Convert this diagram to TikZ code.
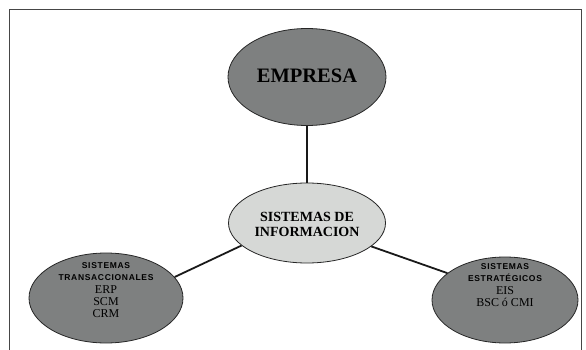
\documentclass[tikz,border=0pt]{standalone}
\usepackage{fontspec}
\setmainfont{Liberation Serif}
\newfontfamily\petitsans[LetterSpace=8]{Liberation Sans}
\usetikzlibrary{shapes.geometric}
\definecolor{ovalgris}{RGB}{126,128,128}
\definecolor{ovalclair}{RGB}{214,216,214}
\definecolor{cadre}{RGB}{70,70,70}
\newcommand{\petit}{\petitsans\bfseries\fontsize{8.5}{9.5}\selectfont}
\newcommand{\moyen}{\rmfamily\mdseries\fontsize{12}{13}\selectfont}

\begin{document}
\begin{tikzpicture}[x=1pt,y=-1pt,
    oval/.style={ellipse, draw=black!85, line width=.8pt, fill=ovalgris, inner sep=0pt},
    lien/.style={line width=1.8pt, black!90},
    titre/.style={align=center, inner sep=0pt, font=\bfseries}]
    % cadre
    \useasboundingbox (0,0) rectangle (586,350);
    \draw[cadre, line width=.8pt] (9.5,351) -- (9.5,9.5) -- (581,9.5) -- (581,351);
    % ovales
    \node[oval, minimum width=158pt, minimum height=97pt] (empresa) at (307,77) {};
    \node[oval, fill=ovalclair, minimum width=157pt, minimum height=80pt] (sistemas) at (307,223) {};
    \node[oval, minimum width=154pt, minimum height=90pt] (trans) at (106,298) {};
    \node[oval, minimum width=146pt, minimum height=86pt] (estrat) at (505,300) {};
    % traits
    \draw[lien] (empresa) -- (sistemas);
    \draw[lien] (sistemas.199) -- (trans.17);
    \draw[lien] (sistemas.340) -- (estrat.155);
    % textes
    \node[titre, font=\bfseries\fontsize{20.5}{24}\selectfont] (tempresa) at (307,76) {EMPRESA};
    \node[titre, font=\bfseries\fontsize{14}{15}\selectfont] (tsistemas) at (307,224) {SISTEMAS DE\\INFORMACION};
    \node[align=center, inner sep=0pt] (ttrans) at (106,290)
        {\petit SISTEMAS\\\petit TRANSACCIONALES\\[1pt]\moyen ERP\\\moyen SCM\\\moyen CRM};
    \node[align=center, inner sep=0pt] (testrat) at (505,285)
        {\petit SISTEMAS\\\petit ESTRATÉGICOS\\[1pt]\moyen EIS\\\moyen BSC ó CMI};
\end{tikzpicture}
\end{document}
